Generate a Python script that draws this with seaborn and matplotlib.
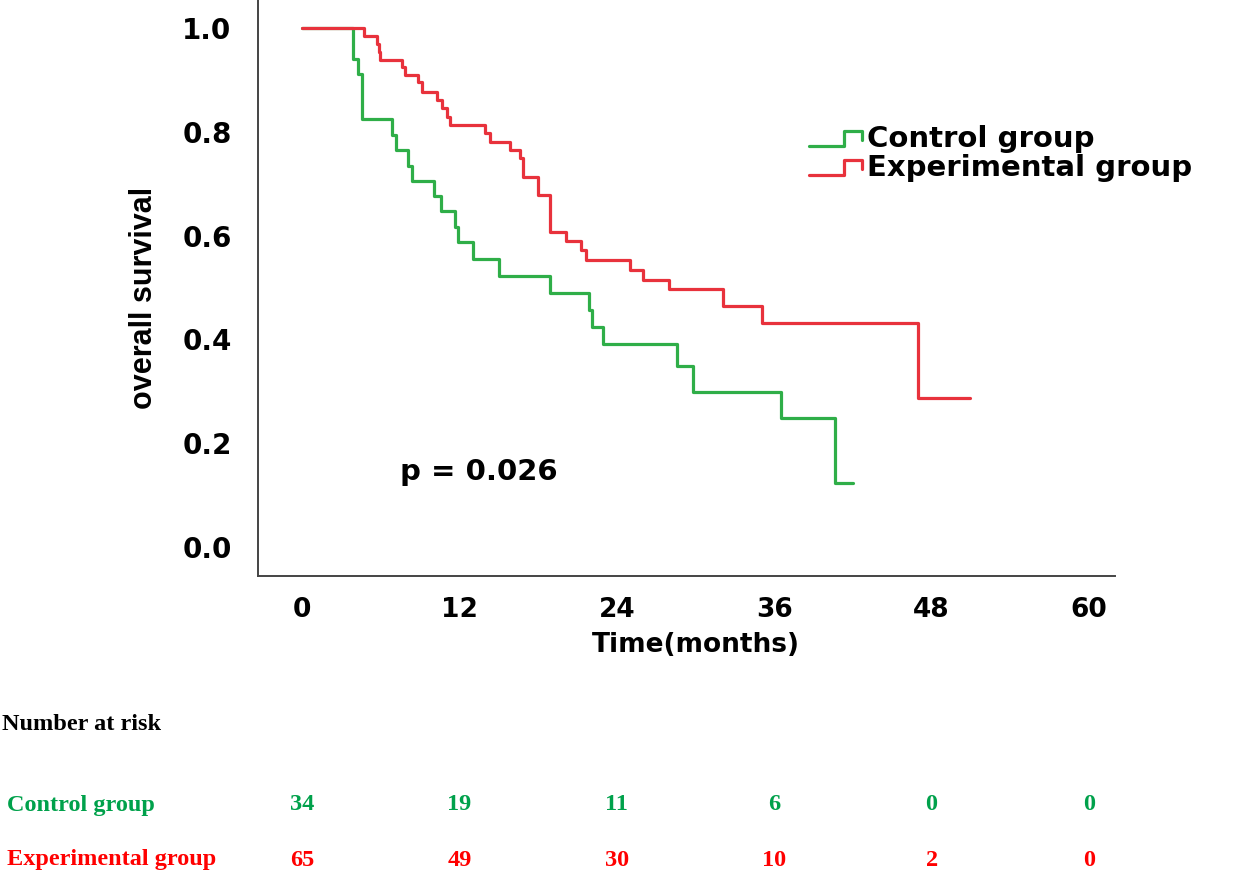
import numpy as np
import pandas as pd
import matplotlib
matplotlib.use("Agg")
import matplotlib.pyplot as plt
import seaborn as sns
from matplotlib.lines import Line2D
from matplotlib.legend_handler import HandlerBase
import matplotlib.transforms as mtransforms

# ---------------- data ----------------
groups = ["Control group", "Experimental group"]
control_time = [0.0, 3.9, 4.3, 4.55, 6.85, 7.15, 8.1, 8.4, 10.1, 10.6, 11.65, 11.9,
                13.05, 15.0, 18.9, 21.9, 22.1, 22.95, 28.6, 29.8, 36.5, 40.6, 42.0]
control_surv = [1.0, 0.941, 0.912, 0.824, 0.794, 0.765, 0.735, 0.706, 0.676, 0.647, 0.617, 0.587,
                0.554, 0.522, 0.490, 0.457, 0.424, 0.392, 0.349, 0.299, 0.248, 0.124, 0.124]
exp_time = [0.0, 4.72, 5.73, 5.85, 5.94, 7.59, 7.84, 8.86, 9.12, 10.26, 10.64, 11.02, 11.27,
            13.94, 14.32, 15.84, 16.6, 16.85, 18.0, 18.9, 20.1, 21.3, 21.68, 24.98, 26.0,
            27.95, 32.1, 35.1, 46.95, 50.9]
exp_surv = [1.0, 0.985, 0.970, 0.954, 0.938, 0.924, 0.909, 0.895, 0.877, 0.861, 0.845, 0.829, 0.813,
            0.797, 0.781, 0.765, 0.749, 0.713, 0.678, 0.606, 0.590, 0.572, 0.553, 0.534, 0.514,
            0.497, 0.465, 0.431, 0.288, 0.288]
xticks = [0, 12, 24, 36, 48, 60]
yticks = [0.0, 0.2, 0.4, 0.6, 0.8, 1.0]
risk_times = [0, 12, 24, 36, 48, 60]
risk_control = [34, 19, 11, 6, 0, 0]
risk_exp = [65, 49, 30, 10, 2, 0]
p_text = "p = 0.026"

line_colors = {"Control group": "#2fae48", "Experimental group": "#e8323c"}
table_colors = {"Control group": "#00a14b", "Experimental group": "#ff0000"}

df = pd.concat([
    pd.DataFrame({"time": control_time, "surv": control_surv, "group": groups[0]}),
    pd.DataFrame({"time": exp_time, "surv": exp_surv, "group": groups[1]}),
], ignore_index=True)

# ---------------- figure ----------------
sns.set_style("white")
plt.rcParams["font.family"] = ["DejaVu Sans"]
plt.rcParams["text.color"] = "black"
plt.rcParams["xtick.color"] = "black"
plt.rcParams["ytick.color"] = "black"
plt.rcParams["axes.labelcolor"] = "black"

W, H = 1260, 876
fig = plt.figure(figsize=(W / 100, H / 100), dpi=100)
ax = fig.add_axes([258 / W, 1 - 575.7 / H, (1115 - 258) / W, 575.7 / H])

sns.lineplot(data=df, x="time", y="surv", hue="group", palette=line_colors,
             estimator=None, sort=False, drawstyle="steps-post", linewidth=2.3,
             legend=False, ax=ax)

px_per_month = 157.4 / 12
ax.set_xlim(-(302 - 258) / px_per_month, (1115 - 302) / px_per_month)
ax.set_ylim(-(575.7 - 547) / 519, 547 / 519)

ax.set_xticks(xticks)
ax.set_yticks(yticks)
ax.set_yticklabels([f"{v:.1f}" for v in yticks], fontsize=20, fontweight="bold",
                   family="DejaVu Sans")
ax.set_xticklabels([str(v) for v in xticks], fontsize=19, fontweight="bold",
                   family="DejaVu Sans")
ax.tick_params(axis="y", direction="out", length=17.5, width=1.4, color="#333333", pad=1.5)
ax.tick_params(axis="x", direction="out", length=11.5, width=1.4, color="#333333", pad=4)

for s in ["top", "right"]:
    ax.spines[s].set_visible(False)
for s in ["left", "bottom"]:
    ax.spines[s].set_color("#444444")
    ax.spines[s].set_linewidth(1.4)

ax.set_xlabel("Time(months)", fontsize=19, fontweight="bold", family="DejaVu Sans")
ax.xaxis.set_label_coords(0.511, -0.097)
ax.set_ylabel("overall survival", fontsize=22, fontweight="bold", family="Liberation Sans")
ax.yaxis.set_label_coords(-0.116, 0.482)

ax.text(7.45, 0.145, p_text, fontsize=21, fontweight="bold", ha="left", va="center")


# legend with step-shaped handles
class StepHandler(HandlerBase):
    def create_artists(self, legend, orig_handle, xdescent, ydescent, width, height,
                       fontsize, trans):
        xs = np.array([0.0, 0.66, 0.66, 1.0, 1.0]) * width - xdescent
        ys = np.array([0.05, 0.05, 0.8, 0.8, 0.35]) * height - ydescent
        ln = Line2D(xs, ys, color=orig_handle.get_color(),
                    linewidth=orig_handle.get_linewidth(), transform=trans)
        return [ln]


handles = [Line2D([], [], color=line_colors[g], linewidth=2.3) for g in groups]
leg = fig.legend(handles, groups, loc="upper left",
                 bbox_to_anchor=(809 / W, 1 - 125 / H), frameon=False,
                 prop={"family": "DejaVu Sans", "weight": "bold", "size": 21},
                 handlelength=1.8, handletextpad=0.2, labelspacing=0.05,
                 borderpad=0, borderaxespad=0,
                 handler_map={Line2D: StepHandler()})

# number at risk table
serif = {"family": "Liberation Serif", "weight": "bold", "size": 17.5}
fig.text(2 / W, 1 - 725 / H, "Number at risk", ha="left", va="center", color="black", **serif)
trans = mtransforms.blended_transform_factory(ax.transData, fig.transFigure)
rows = [(groups[0], risk_control, 805), (groups[1], risk_exp, 860)]
for g, vals, ypix in rows:
    fig.text(7 / W, 1 - ypix / H, g, ha="left", va="center", color=table_colors[g], **serif)
    for t, v in zip(risk_times, vals):
        fig.text(t, 1 - ypix / H, str(v), ha="center", va="center",
                 color=table_colors[g], transform=trans, **serif)

fig.savefig("out.png", dpi=100)
